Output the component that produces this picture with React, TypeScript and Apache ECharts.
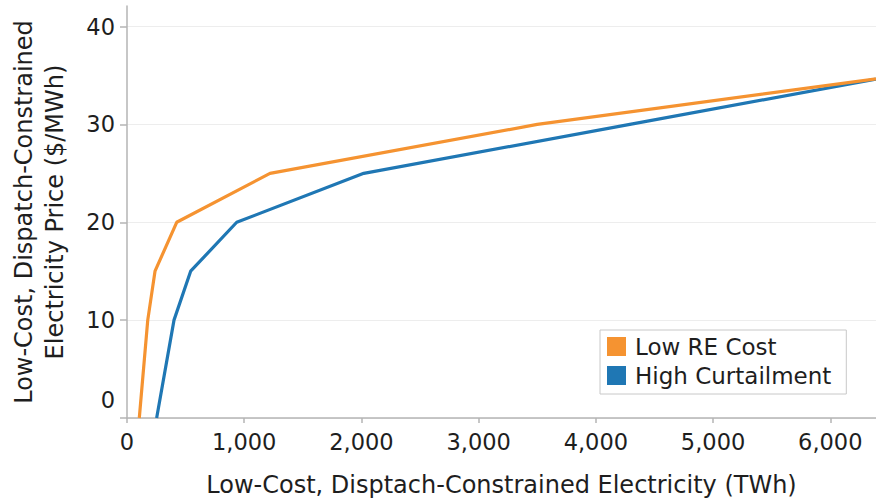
import React, { useEffect, useRef } from "react";
import * as echarts from "echarts";

const seriesNames = ["Low RE Cost", "High Curtailment"];
const lowRECostTWh = [105, 177, 239, 424, 1220, 3500, 6600];
const lowRECostPrice = [0, 10, 15, 20, 25, 30, 35];
const highCurtTWh = [253, 401, 543, 936, 2020, 4290, 6560];
const highCurtPrice = [0, 10, 15, 20, 25, 30, 35];
const xTicks = [0, 1000, 2000, 3000, 4000, 5000, 6000];
const yTicks = [0, 10, 20, 30, 40];

const FONT = "'DejaVu Sans', 'Liberation Sans', Arial, sans-serif";
const TEXT = "#1e1e1e";

export default function App() {
  const ref = useRef<HTMLDivElement>(null);
  useEffect(() => {
    if (!ref.current) return;
    const chart = echarts.init(ref.current, null, { renderer: "svg" });
    const axisColor = "#B5B5B5";
    chart.setOption({
      animation: false,
      backgroundColor: "#ffffff",
      textStyle: { fontFamily: FONT },
      grid: { left: 127, top: 6, right: 0, bottom: 81, containLabel: false, outerBoundsMode: "none" },
      legend: {
        orient: "vertical",
        left: 600,
        top: 330,
        padding: [5, 15, 7, 7],
        itemWidth: 19,
        itemHeight: 19,
        itemGap: 6,
        icon: "rect",
        borderColor: "#C8C8C8",
        borderWidth: 1,
        borderRadius: 0,
        backgroundColor: "#ffffff",
        textStyle: { fontSize: 23, color: TEXT, fontFamily: FONT, padding: [0, 0, 0, 4] },
        data: seriesNames,
      },
      xAxis: {
        type: "value",
        min: 0,
        max: 6390,
        interval: 1000,
        name: "Low-Cost, Disptach-Constrained Electricity (TWh)",
        nameLocation: "middle",
        nameGap: 55,
        nameTextStyle: { fontSize: 24, color: TEXT, fontFamily: FONT },
        axisLine: { show: true, lineStyle: { color: axisColor, width: 1.5 } },
        axisTick: { show: true, length: 5, customValues: xTicks, lineStyle: { color: axisColor, width: 1.5 } },
        axisLabel: {
          customValues: xTicks,
          fontSize: 22.5,
          color: TEXT,
          fontFamily: FONT,
          margin: 12,
          formatter: (v: number) => v.toLocaleString("en-US"),
        },
        splitLine: { show: false },
      },
      yAxis: {
        type: "value",
        min: 0,
        max: 42.1,
        interval: 10,
        name: "Low-Cost, Dispatch-Constrained\nElectricity Price ($/MWh)",
        nameLocation: "middle",
        nameGap: 57,
        nameTextStyle: { fontSize: 24, color: TEXT, fontFamily: FONT, lineHeight: 31 },
        axisLine: { show: true, lineStyle: { color: axisColor, width: 1.5 } },
        axisTick: { show: true, length: 7, customValues: yTicks, lineStyle: { color: axisColor, width: 1.5 } },
        axisLabel: {
          customValues: yTicks,
          fontSize: 22.5,
          color: TEXT,
          fontFamily: FONT,
          margin: 12,
          formatter: (v: number) => (v === 0 ? "{z|0}" : String(v)),
          rich: { z: { fontSize: 22.5, color: TEXT, fontFamily: FONT, padding: [0, 0, 36, 0] } },
        },
        splitLine: { show: true, lineStyle: { color: "#EDEDED", width: 1 } },
      },
      series: [
        {
          name: seriesNames[0],
          type: "line",
          showSymbol: false,
          symbol: "none",
          color: "#F59331",
          lineStyle: { width: 3.2, color: "#F59331" },
          data: lowRECostTWh.map((x, i) => [x, lowRECostPrice[i]]),
          z: 3,
        },
        {
          name: seriesNames[1],
          type: "line",
          showSymbol: false,
          symbol: "none",
          color: "#1F77B4",
          lineStyle: { width: 3.2, color: "#1F77B4" },
          data: highCurtTWh.map((x, i) => [x, highCurtPrice[i]]),
          z: 2,
        },
      ],
    });
    return () => chart.dispose();
  }, []);
  return (
    <div
      ref={ref}
      style={{ position: "fixed", left: 0, top: 0, width: 876, height: 499, background: "#fff" }}
    />
  );
}
